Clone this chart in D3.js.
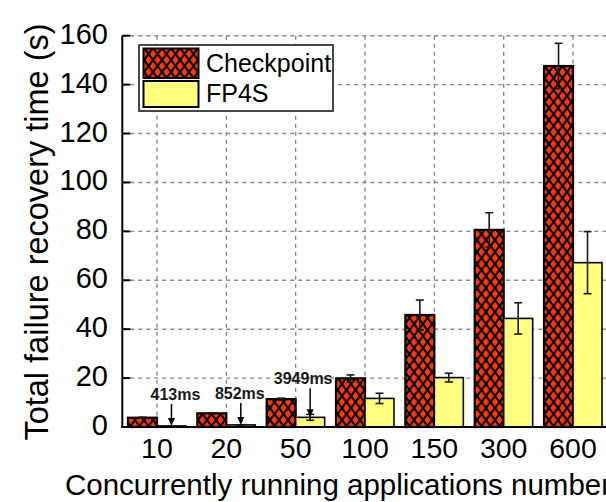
<!DOCTYPE html>
<html>
<head>
<meta charset="utf-8">
<script src="https://cdn.jsdelivr.net/npm/d3@7"></script>
<style>
  html, body { margin: 0; padding: 0; background: #fff; }
  svg { display: block; font-family: "Liberation Sans", Arial, sans-serif; }
</style>
</head>
<body>
<svg id="chart" width="606" height="502"></svg>
<script>
// Recovery time per number of concurrently running applications
const categories = ["10", "20", "50", "100", "150", "300", "600"];
const seriesNames = ["Checkpoint", "FP4S"];
const checkpoint = [3.8, 5.6, 11.4, 19.9, 45.8, 80.6, 147.6];
const checkpointErr = [0.2, 0.2, 0.4, 1.4, 6.1, 7.0, 9.3];
const fp4s = [0.413, 0.852, 3.949, 11.7, 20.2, 44.4, 67.2];
const fp4sErr = [0.1, 0.1, 1.2, 2.1, 1.8, 6.4, 12.7];
const yTicks = [0, 20, 40, 60, 80, 100, 120, 140, 160];
// Millisecond callouts for the small FP4S bars
const callouts = [
  { cat: "10", value: 0.413, label: "413ms" },
  { cat: "20", value: 0.852, label: "852ms" },
  { cat: "50", value: 3.949, label: "3949ms" }
];

const svg = d3.select("#chart");
const plotLeft = 122.3, plotRight = 607.7, plotTop = 35.7, plotBottom = 427;

const x = d3.scaleBand().domain(categories).range([plotLeft, plotRight]).padding(0);
const y = d3.scaleLinear().domain([0, 160]).range([plotBottom, plotTop]);
const barW = x.bandwidth() * 0.418;
const cx = c => x(c) + x.bandwidth() / 2;

// Hatched fill for the checkpoint bars
const defs = svg.append("defs");
const pat = defs.append("pattern")
  .attr("id", "hatch")
  .attr("patternUnits", "userSpaceOnUse")
  .attr("width", 9).attr("height", 12);
pat.append("rect").attr("width", 9).attr("height", 12).attr("fill", "#ff3600");
pat.append("path")
  .attr("d", "M-1,-1.333L10,13.333M10,-1.333L-1,13.333")
  .attr("stroke", "#000").attr("stroke-width", 2.1).attr("fill", "none");

// Grid
const grid = svg.append("g").attr("stroke", "#8a8a8a").attr("stroke-width", 1.4)
  .attr("stroke-dasharray", "4,4").attr("fill", "none");
grid.selectAll("line.h").data(yTicks.filter(t => t > 0)).join("line")
  .attr("class", "h")
  .attr("x1", plotLeft).attr("x2", plotRight)
  .attr("y1", d => y(d)).attr("y2", d => y(d));
grid.selectAll("line.v").data(categories).join("line")
  .attr("class", "v")
  .attr("x1", d => cx(d)).attr("x2", d => cx(d))
  .attr("y1", plotTop).attr("y2", plotBottom);

// Bars
const rows = categories.map((c, i) => ({
  cat: c,
  vals: [
    { s: 0, v: checkpoint[i], e: checkpointErr[i] },
    { s: 1, v: fp4s[i], e: fp4sErr[i] }
  ]
}));
const groups = svg.append("g").selectAll("g").data(rows).join("g");
groups.selectAll("rect").data(d => d.vals.map(v => ({ ...v, cat: d.cat }))).join("rect")
  .attr("x", d => cx(d.cat) - barW + d.s * barW)
  .attr("y", d => y(d.v))
  .attr("width", barW)
  .attr("height", d => y(0) - y(d.v))
  .attr("fill", d => d.s === 0 ? "url(#hatch)" : "#ffff80")
  .attr("stroke", "#000")
  .attr("stroke-width", d => d.s === 0 ? 2.2 : 1.6);

// Error bars
const eb = svg.append("g").attr("stroke", "#1a1a1a").attr("stroke-width", 1.6).attr("fill", "none");
rows.forEach(r => {
  r.vals.forEach(d => {
    const xc = cx(r.cat) - barW / 2 + d.s * barW;
    eb.append("line").attr("x1", xc).attr("x2", xc).attr("y1", y(d.v + d.e)).attr("y2", y(d.v - d.e));
    [d.v + d.e, d.v - d.e].forEach(t =>
      eb.append("line").attr("x1", xc - 4).attr("x2", xc + 4).attr("y1", y(t)).attr("y2", y(t)));
  });
});

// Callout arrows and labels
const arrowLen = [22, 22, 29];
const labelDx = [4, -1, -7];
const ann = svg.append("g");
callouts.forEach((c, i) => {
  const ax = cx(c.cat) + barW / 2;
  const tipY = y(c.value);
  const topY = tipY - arrowLen[i];
  ann.append("line").attr("x1", ax).attr("x2", ax).attr("y1", topY).attr("y2", tipY - 6)
    .attr("stroke", "#000").attr("stroke-width", 1.5);
  ann.append("path")
    .attr("d", `M${ax - 3.5},${tipY - 8}L${ax + 3.5},${tipY - 8}L${ax},${tipY}Z`)
    .attr("fill", "#000");
  ann.append("text")
    .attr("x", ax + labelDx[i]).attr("y", topY - 4)
    .attr("text-anchor", "middle")
    .attr("font-size", 16).attr("font-weight", "bold")
    .attr("fill", "#1a1a1a")
    .text(c.label);
});

// Axes
const axes = svg.append("g").attr("stroke", "#000").attr("stroke-width", 2);
axes.append("line").attr("x1", plotLeft).attr("x2", plotLeft).attr("y1", plotTop).attr("y2", plotBottom + 1);
axes.append("line").attr("x1", plotLeft - 1).attr("x2", plotRight).attr("y1", plotBottom).attr("y2", plotBottom);
axes.selectAll("line.tick").data(yTicks).join("line")
  .attr("class", "tick")
  .attr("x1", plotLeft).attr("x2", plotLeft + 8)
  .attr("y1", d => y(d)).attr("y2", d => y(d));

svg.append("g").selectAll("text").data(yTicks).join("text")
  .attr("x", 108).attr("y", d => y(d) + 8)
  .attr("text-anchor", "end")
  .attr("font-size", 29).attr("fill", "#000")
  .text(d => d);

svg.append("g").selectAll("text").data(categories).join("text")
  .attr("x", d => cx(d)).attr("y", 458)
  .attr("text-anchor", "middle")
  .attr("font-size", 28.5).attr("fill", "#000")
  .text(d => d);

svg.append("text")
  .attr("x", 65).attr("y", 495)
  .attr("font-size", 29.5).attr("fill", "#000")
  .text("Concurrently running applications number");

svg.append("text")
  .attr("transform", "translate(48,232) rotate(-90)")
  .attr("text-anchor", "middle")
  .attr("font-size", 32.5).attr("fill", "#000")
  .text("Total failure recovery time (s)");

// Legend
const lg = svg.append("g");
lg.append("rect").attr("x", 139).attr("y", 45).attr("width", 194).attr("height", 66)
  .attr("fill", "#fff").attr("stroke", "#333").attr("stroke-width", 1.8);
const swY = [48.5, 81];
const swH = [29.5, 26];
seriesNames.forEach((n, i) => {
  lg.append("rect").attr("x", 143.5).attr("y", swY[i]).attr("width", 55).attr("height", swH[i])
    .attr("fill", i === 0 ? "url(#hatch)" : "#ffff80")
    .attr("stroke", "#000").attr("stroke-width", 2);
  lg.append("text").attr("x", 206).attr("y", i === 0 ? 71.5 : 102)
    .attr("font-size", 25).attr("fill", "#000").text(n);
});
</script>
</body>
</html>
